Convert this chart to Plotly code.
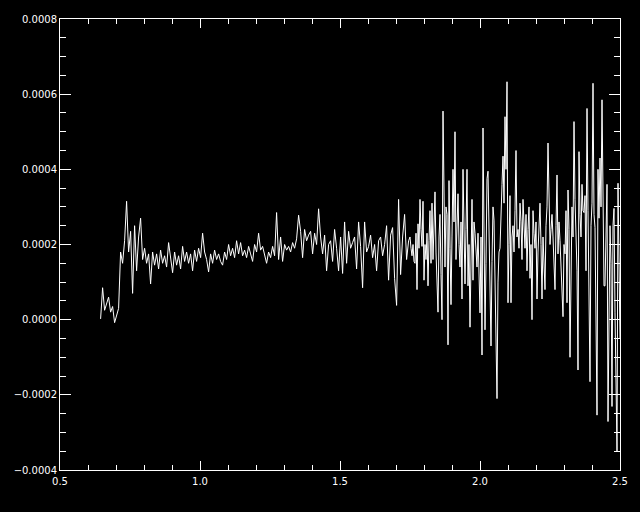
import numpy as np
import plotly.graph_objects as go

# Wavelength sampling: coarser blue part, finer red part
wl_blue_start, wl_blue_end, n_blue = 0.645, 1.745, 155
wl_red_start, wl_red_end, n_red = 1.75, 2.5, 211

# flux values (units of 1e-4)
flux_blue_e4 = [
    0.02, 0.85, 0.25, 0.45, 0.6, 0.2, 0.35, -0.08, 0.15,
    0.3, 1.8, 1.5, 2.1, 3.15, 1.8, 2.35, 0.7, 2.5, 1.3, 2.2, 2.7, 1.6, 1.9, 1.5, 1.75,
    0.95, 1.8, 1.45, 1.75, 1.35, 1.85, 1.5, 1.7, 1.4, 2.05, 1.6, 1.25, 1.8, 1.45,
    1.7, 1.35, 1.95, 1.55, 1.8, 1.5, 1.75, 1.3, 1.85, 1.55, 1.9, 1.65, 2.3, 1.8,
    1.6, 1.27, 1.75, 1.5, 1.85, 1.6, 1.75, 1.55, 1.45, 1.8,
    1.6, 2.0, 1.7, 1.9, 1.65, 2.1, 1.75, 2.05, 1.7, 1.85,
    1.65, 1.95, 1.75, 1.55, 2.0, 1.8, 2.3, 1.85, 1.95, 1.7,
    1.5, 1.8, 1.65, 1.95, 1.7, 2.85, 1.6, 2.2, 1.55, 2.0,
    1.85, 1.95, 1.8, 2.05, 1.9, 2.15, 2.78, 2.35, 1.65, 2.4,
    2.1, 2.25,
    2.35, 1.75, 2.3, 2.0, 2.95, 2.2, 1.75, 2.25, 1.3, 2.0,
    2.1, 1.55, 2.4, 1.9, 1.3, 2.2, 1.23, 2.6, 1.5, 2.35,
    1.9, 2.05, 2.2, 1.35, 2.6, 1.95, 0.85, 2.6, 1.8, 1.95,
    2.25, 1.65, 2.0, 1.3, 2.1, 2.2, 1.7, 2.0, 2.5, 1.05,
    2.25, 2.45, 1.1, 0.38, 3.2, 1.2, 2.2, 2.8, 1.6, 2.1,
]

flux_red_e4 = [
    2.2, 1.9, 1.7, 2.0, 1.55, 1.5, 2.3, 0.8, 2.55, 1.9,
    3.2, 2.4, 1.95, 3.15, 1.05, 2.0, 1.6, 2.3, 0.9, 2.1,
    2.9, 1.5, 3.1, 1.6, 2.5, 3.4, 1.8, 0.55, 0.2, 2.2,
    2.8, 1.2, 0.0, 5.55, 2.5, 1.4, 3.0, 2.8, -0.67, 3.7,
    1.9, 0.4, 2.2, 4.0, 2.6, 5.0, 1.6, 2.75, 3.35, 2.0,
    1.4, 2.6, 0.55, 4.0, 2.2, 0.95, 2.4, 4.0, 0.9, 2.0,
    -0.2, 1.5, 3.2, 1.05, 2.6, 2.3, 1.6, 1.4, 2.3, 1.2,
    0.18, 2.2, -0.94, 5.1, 3.0, -0.27, 1.5, 3.75, 3.95, 2.5,
    0.45, -0.7, 1.55, 3.0, 2.65, 0.9, -0.2, -2.1, 1.0, 1.8,
    1.9, 3.2, 3.6, 4.35, 3.1, 5.4, 4.0, 6.33, 0.45, 2.0,
    3.3, 0.45, 2.2, 2.5, 1.8, 2.9, 4.5, 2.2, 2.4, 1.9,
    3.1, 2.6, 1.6, 3.2, 2.3, 1.9, 2.8, 1.3, 2.4, 3.0,
    1.1, 2.0, 0.0, 2.9, 2.3, 1.9, 2.6, 0.55, 1.8, 2.3,
    3.1, 2.0, 0.55, 2.2, 1.4, 0.8, 2.5, 3.0, 4.7, 3.45,
    2.0, 2.4, 2.8, 2.2, 1.3, 0.8, 2.5, 3.85, 1.75, 2.6,
    2.1, 1.5, 0.6, 0.08, 2.0, 1.75, 2.9, 0.45, 3.45, 2.4,
    -1.0, 1.9, 3.0, 2.2, 5.27, 3.2, 2.5, 1.3, -1.34, 4.47,
    2.8, 2.2, 3.6, 2.9, 2.85, 3.3, 1.3, 5.62, 2.9, 0.0,
    -1.65, 2.5, 3.1, 6.29, 2.8, 2.45, 0.5, -2.54, 4.0, 2.7,
    4.3, 3.0, 5.85, 3.9, 0.9, 0.9, 2.5, 3.6, -2.71, 1.0,
    2.5, 1.5, -2.31, 2.5, 2.96, 0.2, -1.2, -3.51, 3.63, 1.0,
    -0.5,
]

x_tickvals = [0.5, 1.0, 1.5, 2.0, 2.5]
y_tickvals = [-0.0004, -0.0002, 0.0, 0.0002, 0.0004, 0.0006, 0.0008]

wavelength = np.concatenate([
    np.linspace(wl_blue_start, wl_blue_end, n_blue),
    np.linspace(wl_red_start, wl_red_end, n_red),
])
flux = [v * 1e-4 for v in flux_blue_e4 + flux_red_e4]

fig = go.Figure()
fig.add_trace(go.Scatter(
    x=wavelength, y=flux, mode="lines",
    line=dict(color="white", width=1),
    showlegend=False, hoverinfo="skip",
))

font = dict(family="DejaVu Sans", size=10, color="white")

fig.update_layout(
    width=640, height=512,
    paper_bgcolor="black", plot_bgcolor="black",
    margin=dict(l=60, r=18, t=19, b=42),
    font=font,
    xaxis=dict(
        range=[0.5, 2.5], tickvals=x_tickvals, tickformat=".1f",
        showgrid=False, zeroline=False,
        showline=True, linecolor="white", linewidth=1, mirror="allticks",
        ticks="inside", ticklen=9, tickwidth=1, tickcolor="white",
        minor=dict(ticks="inside", ticklen=5, dtick=0.1, tickcolor="white", showgrid=False),
        tickfont=font, ticklabelstandoff=2,
    ),
    yaxis=dict(
        range=[-0.0004, 0.0008], tickvals=y_tickvals, tickformat=".4f",
        showgrid=False, zeroline=False,
        showline=True, linecolor="white", linewidth=1, mirror="allticks",
        ticks="inside", ticklen=11, tickwidth=1, tickcolor="white",
        minor=dict(ticks="inside", ticklen=6, dtick=0.00005, tickcolor="white", showgrid=False),
        tickfont=font,
    ),
)

fig.write_html(
    "out.html",
    config={"displayModeBar": False},
    post_script="document.body.style.margin='0';document.body.style.background='black';",
)
